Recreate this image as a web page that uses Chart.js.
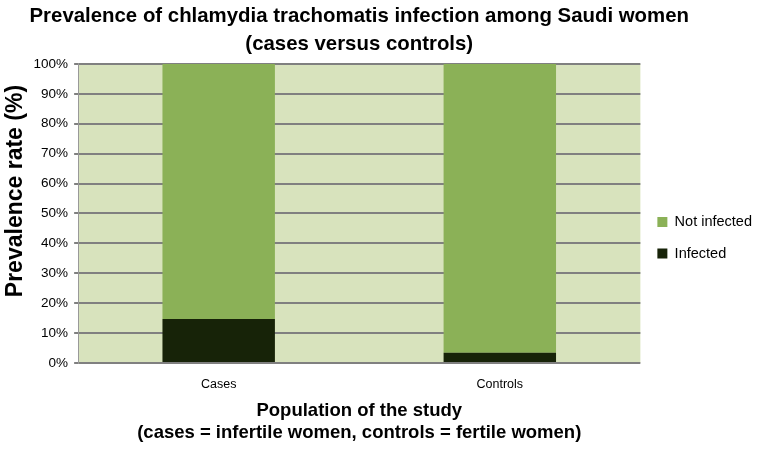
<!DOCTYPE html>
<html>
<head>
<meta charset="utf-8">
<script src="https://cdn.jsdelivr.net/npm/chart.js@4"></script>
<style>
  html, body { margin: 0; padding: 0; background: #fff; }
  #wrap { width: 758px; height: 452px; }
</style>
</head>
<body>
<div id="wrap"><canvas id="chlamydiaChart"></canvas></div>
<script>
// data
const categories = ['Cases', 'Controls'];
const infected = [14.7, 3.4];
const notInfected = [85.3, 96.6];
const yTicks = [0, 10, 20, 30, 40, 50, 60, 70, 80, 90, 100];

// paint the plot area light green
const plotBackground = {
    id: 'plotBackground',
    beforeDraw(chart) {
        const { ctx, chartArea: a } = chart;
        ctx.save();
        ctx.fillStyle = '#d8e3bd';
        ctx.fillRect(a.left, a.top, a.right - a.left, a.bottom - a.top);
        ctx.restore();
    }
};

// the title sits centred over the plot, not over the whole canvas
const centreTitle = {
    id: 'centreTitle',
    afterLayout(chart) {
        const t = chart.titleBlock;
        const a = chart.chartArea;
        if (!t) return;
        const half = (t.right - t.left) / 2;
        const mid = (a.left + a.right) / 2;
        t.left = mid - half;
        t.right = mid + half;
    }
};

Chart.defaults.font.family = '"Liberation Sans", Arial, sans-serif';
Chart.defaults.color = '#000';

new Chart(document.getElementById('chlamydiaChart'), {
    type: 'bar',
    data: {
        labels: categories,
        datasets: [
            {
                label: 'Infected',
                data: infected,
                backgroundColor: '#172308',
                barPercentage: 1,
                categoryPercentage: 0.4
            },
            {
                label: 'Not infected',
                data: notInfected,
                backgroundColor: '#8bb157',
                barPercentage: 1,
                categoryPercentage: 0.4
            }
        ]
    },
    options: {
        responsive: true,
        maintainAspectRatio: false,
        animation: false,
        layout: { padding: { left: 2, right: -4, top: 0, bottom: 8 } },
        plugins: {
            title: {
                display: true,
                text: ['Prevalence of chlamydia trachomatis infection among Saudi women', '(cases versus controls)'],
                font: { size: 20.4, weight: 'bold', lineHeight: 1.37 },
                padding: { top: 2, bottom: 6 }
            },
            legend: {
                position: 'right',
                reverse: true,
                align: 'center',
                // empty title only nudges the two items down a little
                title: { display: true, text: ' ', font: { size: 8 }, padding: 11 },
                labels: {
                    boxWidth: 10,
                    boxHeight: 10,
                    padding: 17,
                    font: { size: 14.5 }
                }
            },
            tooltip: { enabled: false }
        },
        scales: {
            x: {
                stacked: true,
                grid: { display: false },
                border: { display: false },
                ticks: { font: { size: 12.5 }, padding: 6.5 },
                title: {
                    display: true,
                    text: ['Population of the study', '(cases = infertile women, controls = fertile women)'],
                    font: { size: 18.5, weight: 'bold', lineHeight: 1.19 },
                    padding: { top: 1, bottom: 0 }
                }
            },
            y: {
                stacked: true,
                min: 0,
                max: 100,
                afterBuildTicks(axis) {
                    axis.ticks = yTicks.map(v => ({ value: v }));
                },
                grid: { color: '#808080', lineWidth: 2, tickLength: 4 },
                border: { display: true, color: '#999', width: 1 },
                ticks: {
                    font: { size: 13.5 },
                    padding: 6,
                    callback: v => v + '%'
                },
                title: {
                    display: true,
                    // leading spaces lift the text a bit above the plot's middle, as in the original
                    text: '       Prevalence rate (%)',
                    font: { size: 23, weight: 'bold' },
                    padding: { top: 0, bottom: -2 }
                }
            }
        }
    },
    plugins: [plotBackground, centreTitle]
});
</script>
</body>
</html>
